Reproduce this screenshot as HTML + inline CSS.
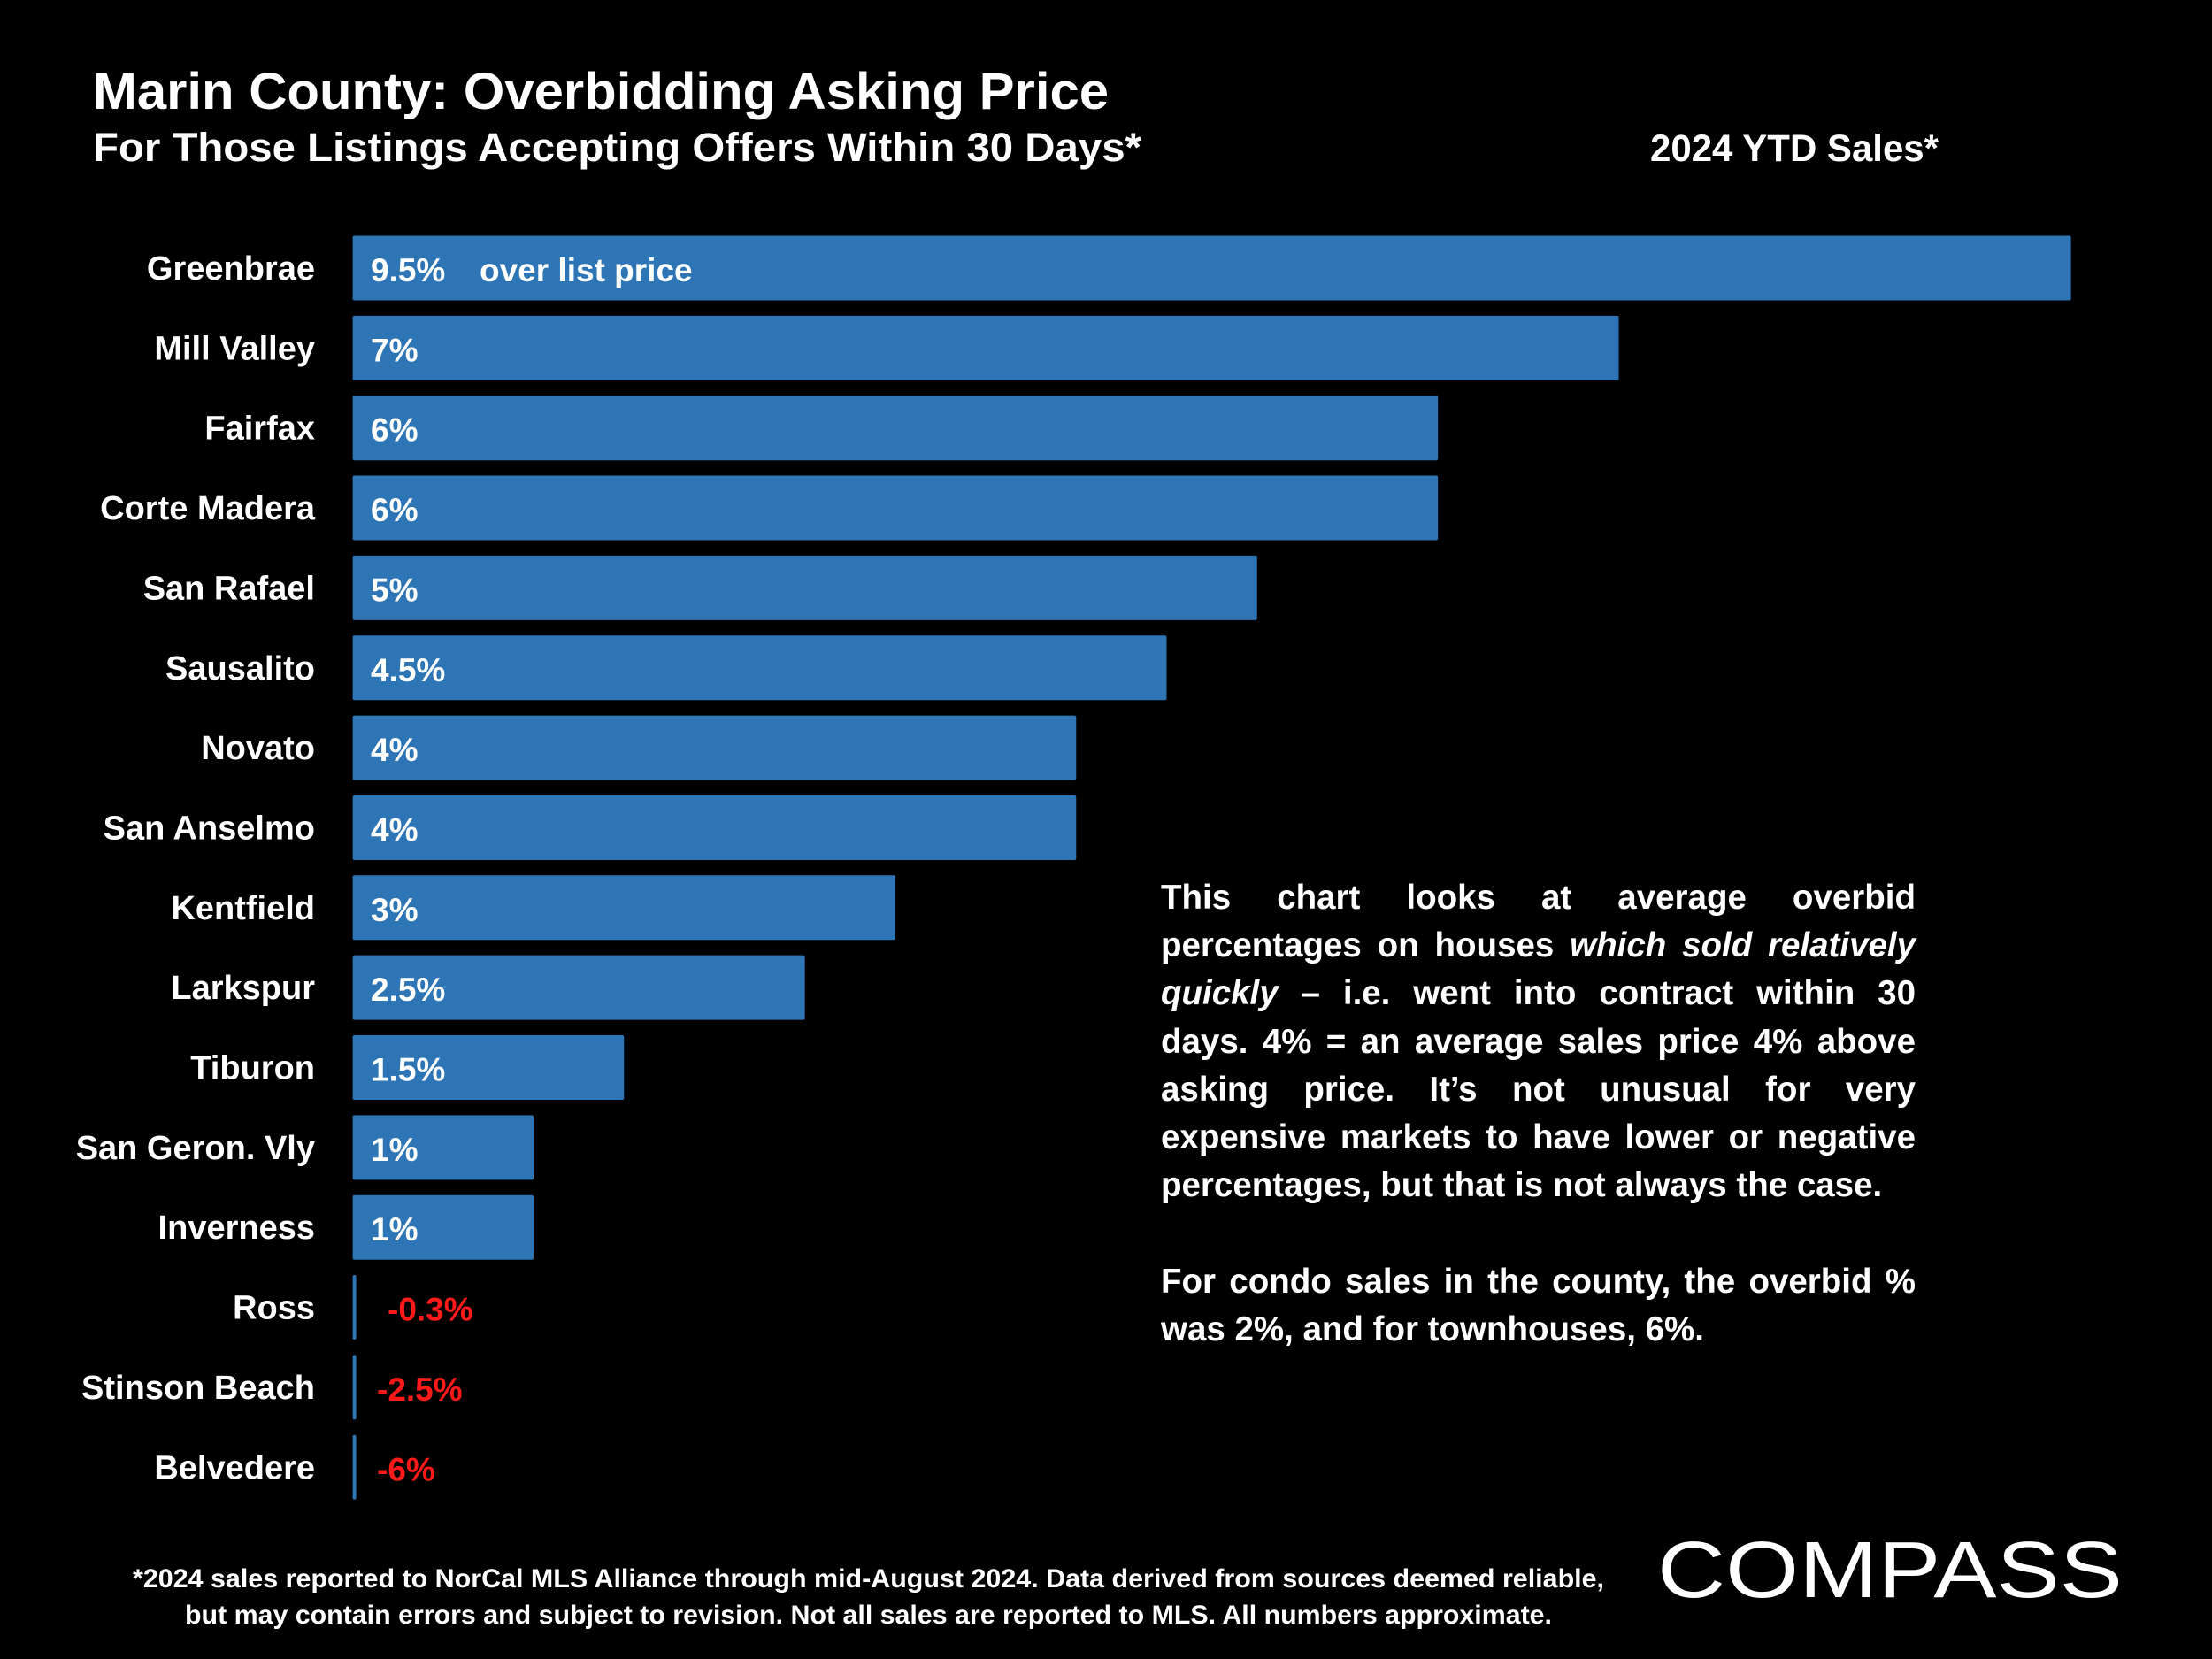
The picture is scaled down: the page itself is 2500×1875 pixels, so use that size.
<!DOCTYPE html>
<html><head><meta charset="utf-8"><style>
html,body{margin:0;padding:0;background:#000;}
svg{display:block;}
text{font-family:"Liberation Sans",sans-serif;font-weight:bold;}
#desc{position:absolute;left:1312px;top:988px;width:853px;font-family:"Liberation Sans",sans-serif;font-weight:bold;font-size:38.5px;color:#fff;line-height:54.2px;}
#desc .j{display:block;white-space:nowrap;text-align:justify;text-align-last:justify;}
#desc .n{display:block;white-space:nowrap;}
</style></head><body>
<svg id="chart" width="2500" height="1875" viewBox="0 0 2500 1875" xmlns="http://www.w3.org/2000/svg">
<rect width="2500" height="1875" fill="#000"/>
<text x="105" y="123" font-size="58" fill="#fff" textLength="1148" lengthAdjust="spacingAndGlyphs">Marin County: Overbidding Asking Price</text>
<text x="105" y="182" font-size="45" fill="#fff" textLength="1185" lengthAdjust="spacingAndGlyphs">For Those Listings Accepting Offers Within 30 Days*</text>
<text x="1865" y="182" font-size="43" fill="#fff" textLength="326" lengthAdjust="spacingAndGlyphs">2024 YTD Sales*</text>
<g id="bars"></g>
<g font-size="30" fill="#fff">
<text x="150" y="1794" textLength="1663" lengthAdjust="spacingAndGlyphs">*2024 sales reported to NorCal MLS Alliance through mid-August 2024. Data derived from sources deemed reliable,</text>
<text x="209" y="1835" textLength="1545" lengthAdjust="spacingAndGlyphs">but may contain errors and subject to revision. Not all sales are reported to MLS. All numbers approximate.</text>
</g>
<g>
<text x="1873" y="1805" font-size="90" fill="#fff" style="font-weight:normal" textLength="526" lengthAdjust="spacingAndGlyphs">COMPASS</text>
</g>
</svg>
<div id="desc">
<span class="j">This chart looks at average overbid</span>
<span class="j">percentages on houses <i>which sold relatively</i></span>
<span class="j"><i>quickly</i> – i.e. went into contract within 30</span>
<span class="j">days. 4% = an average sales price 4% above</span>
<span class="j">asking price. It’s not unusual for very</span>
<span class="j">expensive markets to have lower or negative</span>
<span class="n">percentages, but that is not always the case.</span>
<span class="n">&nbsp;</span>
<span class="j">For condo sales in the county, the overbid %</span>
<span class="n">was 2%, and for townhouses, 6%.</span>
</div>
<script>
const categories = ["Greenbrae","Mill Valley","Fairfax","Corte Madera","San Rafael","Sausalito","Novato","San Anselmo","Kentfield","Larkspur","Tiburon","San Geron. Vly","Inverness","Ross","Stinson Beach","Belvedere"];
const values = [9.5,7,6,6,5,4.5,4,4,3,2.5,1.5,1,1,-0.3,-2.5,-6];
const valueLabels = ["9.5%","7%","6%","6%","5%","4.5%","4%","4%","3%","2.5%","1.5%","1%","1%","-0.3%","-2.5%","-6%"];

const NS = "http://www.w3.org/2000/svg";
const x0 = 398.6, pxPerUnit = 1942/9.5;
function xScale(v){ return x0 + v*pxPerUnit; }
function yCenter(i){ return 303 + i*90.35; }
const barH = 73;
const g = document.getElementById('bars');
categories.forEach((c,i)=>{
  const v = values[i];
  const yc = yCenter(i);
  const r = document.createElementNS(NS,'rect');
  
  
  const w = v > 0 ? xScale(v) - x0 : 4;
  r.setAttribute('x', x0); r.setAttribute('y', yc - barH/2);
  r.setAttribute('width', w); r.setAttribute('height', barH);
  r.setAttribute('fill', '#2E75B6'); r.setAttribute('rx', 2);
  g.appendChild(r);
  const t = document.createElementNS(NS,'text');
  
  
  t.setAttribute('x', 356); t.setAttribute('y', yc + 13);
  t.setAttribute('text-anchor','end'); t.setAttribute('font-size', 38); t.setAttribute('fill','#fff');
  t.textContent = c; g.appendChild(t);
  const vl = document.createElementNS(NS,'text');
  
  
  vl.setAttribute('x', v > 0 ? 419 : (v > -1 ? 438 : 426)); vl.setAttribute('y', yc + 15);
  vl.setAttribute('font-size', 37); vl.setAttribute('fill', v > 0 ? '#fff' : '#ff1a1a');
  vl.textContent = valueLabels[i]; g.appendChild(vl);
  if(i===0){
    const o = document.createElementNS(NS,'text');
    
    
    o.setAttribute('x', 542); o.setAttribute('y', yc + 15);
    o.setAttribute('font-size', 37); o.setAttribute('fill','#fff');
    o.textContent = 'over list price'; g.appendChild(o);
  }
});
</script>
</body></html>
